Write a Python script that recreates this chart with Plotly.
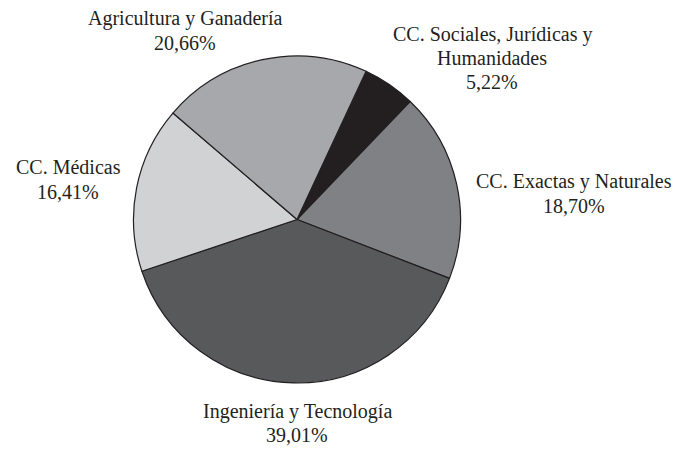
import plotly.graph_objects as go

# slices in clockwise order, starting from the small black one
labels = [
    "CC. Sociales, Jurídicas y<br>Humanidades",
    "CC. Exactas y Naturales",
    "Ingeniería y Tecnología",
    "CC. Médicas",
    "Agricultura y Ganadería",
]
shares = [5.22, 18.70, 39.01, 16.41, 20.66]
colors = ["#231f20", "#808184", "#58595b", "#d1d2d4", "#a7a8ab"]

# where each outside label sits on screen: centre x, first line y, line step
label_spots = [(492, 34, 24), (574, 181.5, 24), (297, 411, 24), (68, 167.5, 24), (185, 19, 24)]

# the page body has an 8px margin, so the figure is drawn 8px in from the corner
OFF = 8
W, H = 685 - OFF, 449 - OFF


def px(sx):
    return (sx - OFF) / W


def py(sy):
    return 1 - (sy - OFF) / H


fig = go.Figure(
    go.Pie(
        labels=labels,
        values=shares,
        sort=False,
        direction="clockwise",
        rotation=25,
        marker=dict(colors=colors, line=dict(color="#231f20", width=1.2)),
        textinfo="none",
        hoverinfo="label+percent",
        showlegend=False,
        domain=dict(x=[px(133), px(461)], y=[py(383), py(56)]),
    )
)

font = dict(family="Liberation Serif", size=20, color="#231f20")
for name, share, (cx, y0, step) in zip(labels, shares, label_spots):
    lines = name.split("<br>") + [f"{share:.2f}%".replace(".", ",")]
    for i, line in enumerate(lines):
        fig.add_annotation(
            x=px(cx),
            y=py(y0 + i * step),
            xref="paper",
            yref="paper",
            text=line,
            showarrow=False,
            xanchor="center",
            yanchor="middle",
            font=font,
        )

fig.update_layout(
    width=W,
    height=H,
    margin=dict(l=0, r=0, t=0, b=0),
    paper_bgcolor="white",
    plot_bgcolor="white",
)

fig.write_html("out.html")
